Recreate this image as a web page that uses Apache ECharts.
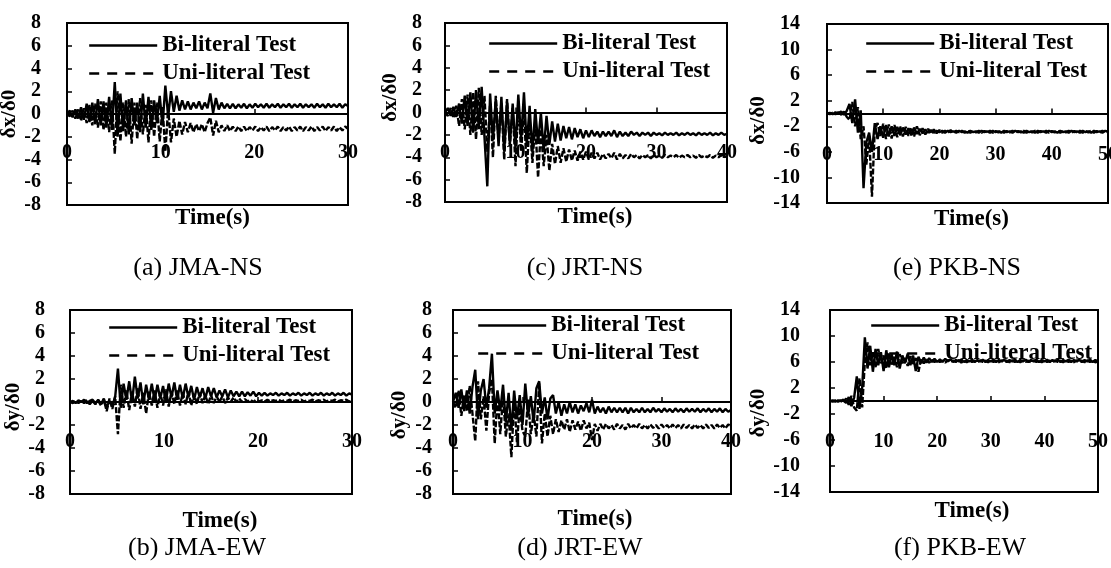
<!DOCTYPE html>
<html><head><meta charset="utf-8">
<script src="https://cdn.jsdelivr.net/npm/echarts@6/dist/echarts.min.js"></script>
<style>html,body{margin:0;padding:0;background:#fff}#c{width:1111px;height:568px}</style>
</head><body><div id="c"></div>
<script>
// ---------- data ----------
const SERIES_NAMES = ['Bi-literal Test', 'Uni-literal Test'];
const X_TICKS_30 = [0, 10, 20, 30];
const X_TICKS_40 = [0, 10, 20, 30, 40];
const X_TICKS_50 = [0, 10, 20, 30, 40, 50];
const Y_TICKS_8 = [-8, -6, -4, -2, 0, 2, 4, 6, 8];
const Y_TICKS_14 = [-14, -10, -6, -2, 2, 6, 10, 14];
const Y_NAME_X = 'δx/δ0';
const Y_NAME_Y = 'δy/δ0';
const X_NAME = 'Time(s)';
const CAPTIONS = ['(a) JMA-NS', '(c) JRT-NS', '(e) PKB-NS', '(b) JMA-EW', '(d) JRT-EW', '(f) PKB-EW'];
// sampling step (s) of each record
const DT_JMA = 0.3, DT_JRT = 0.4, DT_PKB = 0.5;

const jmaNsBi = [
 0.0, 0.3, -0.3, 0.4, -0.4, 0.6, -0.5, 0.9, -0.7, 1.0,
 -0.9, 1.3, -1.0, 1.1, -1.2, 1.5, -1.4, 2.8, -2.0, 1.8,
 -1.5, 1.2, -1.8, 1.4, -1.0, 1.0, -1.6, 1.8, -1.2, 1.5,
 -1.4, 1.2, -0.8, 1.6, -1.0, 2.5, -0.2, 2.0, 0.2, 1.6,
 0.3, 1.2, 0.4, 1.1, 0.4, 1.0, 0.5, 1.1, 0.4, 1.0,
 0.5, 1.8, 0.1, 1.4, 0.4, 1.0, 0.5, 0.9, 0.5, 0.9,
 0.5, 0.85, 0.55, 0.9, 0.5, 0.85, 0.55, 0.9, 0.6, 0.85,
 0.55, 0.9, 0.55, 0.85, 0.6, 0.9, 0.55, 0.85, 0.6, 0.9,
 0.55, 0.85, 0.6, 0.9, 0.55, 0.85, 0.6, 0.85, 0.55, 0.9,
 0.6, 0.85, 0.55, 0.9, 0.6, 0.85, 0.6, 0.9, 0.55, 0.85, 0.7
];
const jmaNsUni = [
 0.0, -0.2, 0.3, -0.4, 0.4, -0.6, 0.5, -0.8, 0.8, -1.0,
 0.9, -1.2, 1.1, -1.4, 1.0, -1.6, 1.2, -3.5, 2.0, -2.4,
 1.0, -2.0, 1.3, -2.6, 1.0, -2.2, 1.4, -1.8, 0.8, -2.5,
 1.2, -2.0, 1.0, -2.4, 0.6, -3.3, 0.5, -2.5, -0.4, -2.0,
 -0.6, -1.8, -0.7, -1.6, -0.8, -1.6, -0.9, -1.5, -0.9, -1.6,
 -0.8, -0.3, -1.9, -0.6, -1.6, -1.0, -1.5, -1.0, -1.5, -1.1,
 -1.5, -1.1, -1.5, -1.1, -1.5, -1.15, -1.45, -1.1, -1.5, -1.15,
 -1.45, -1.1, -1.5, -1.15, -1.45, -1.1, -1.5, -1.15, -1.45, -1.1,
 -1.5, -1.15, -1.45, -1.1, -1.5, -1.15, -1.45, -1.1, -1.5, -1.15,
 -1.45, -1.1, -1.5, -1.15, -1.45, -1.1, -1.5, -1.15, -1.45, -1.1, -1.3
];
const jmaEwBi = [
 0.0, 0.1, -0.1, 0.15, 0.0, 0.2, -0.1, 0.1, 0.2, -0.1,
 0.2, -0.2, 0.3, -0.5, 0.1, -0.3, 0.4, 2.9, -0.5, 1.6,
 0.2, 1.8, 0.0, 2.2, 0.3, 1.7, -0.2, 1.5, 0.2, 1.6,
 0.1, 1.5, 0.3, 1.4, 0.0, 1.6, 0.4, 1.7, 0.2, 1.5,
 0.3, 1.6, 0.4, 1.4, 0.2, 1.3, 0.4, 1.2, 0.3, 1.3,
 0.5, 1.2, 0.4, 1.0, 0.5, 1.1, 0.4, 1.0, 0.5, 0.9,
 0.5, 0.9, 0.5, 0.85, 0.55, 0.9, 0.5, 0.8, 0.55, 0.8,
 0.55, 0.75, 0.6, 0.8, 0.55, 0.75, 0.6, 0.8, 0.55, 0.75,
 0.6, 0.8, 0.55, 0.75, 0.6, 0.8, 0.55, 0.75, 0.6, 0.8,
 0.55, 0.75, 0.6, 0.8, 0.55, 0.75, 0.6, 0.8, 0.55, 0.75, 0.65
];
const jmaEwUni = [
 0.0, -0.1, 0.1, -0.1, 0.1, -0.1, 0.2, -0.2, 0.1, -0.2,
 0.1, -0.3, 0.2, -0.8, 0.3, -0.6, 0.5, -2.8, 1.5, -0.5,
 1.0, -0.7, 0.9, -0.4, 1.2, -0.6, 0.8, -1.0, 0.9, -0.3,
 1.0, -0.5, 0.8, -0.3, 1.1, -0.4, 0.9, -0.2, 1.0, -0.3,
 0.8, -0.2, 0.9, -0.3, 0.7, -0.2, 0.8, -0.1, 0.6, -0.2,
 0.6, -0.1, 0.5, 0.0, 0.5, -0.1, 0.4, 0.0, 0.4, 0.0,
 0.3, 0.0, 0.25, 0.05, 0.2, 0.0, 0.2, 0.05, 0.15, 0.05,
 0.2, 0.05, 0.15, 0.1, 0.2, 0.05, 0.15, 0.1, 0.2, 0.05,
 0.15, 0.1, 0.2, 0.05, 0.15, 0.1, 0.2, 0.05, 0.15, 0.1,
 0.2, 0.05, 0.15, 0.1, 0.2, 0.05, 0.15, 0.1, 0.2, 0.05, 0.1
];
const jrtNsBi = [
 0.0, 0.4, -0.3, 0.5, -0.4, 0.8, -1.0, 1.5, -1.2, 1.8,
 -1.8, 2.0, -1.5, 2.3, -2.2, -6.6, 1.7, -2.5, 1.2, -3.0,
 1.4, -3.5, 1.0, -2.8, 0.8, -3.2, 1.6, -2.4, 1.8, -3.0,
 0.6, -3.6, 0.3, -2.8, 0.0, -3.4, -0.3, -2.9, -0.8, -2.6,
 -1.0, -2.5, -1.2, -2.3, -1.3, -2.4, -1.4, -2.2, -1.5, -2.3,
 -1.6, -2.2, -1.6, -2.1, -1.7, -2.2, -1.7, -2.1, -1.7, -2.1,
 -1.6, -2.2, -1.7, -2.1, -1.8, -2.1, -1.7, -2.0, -1.8, -2.1,
 -1.8, -2.0, -1.8, -2.1, -1.8, -2.0, -1.85, -2.05, -1.8, -2.0,
 -1.85, -2.0, -1.8, -2.05, -1.85, -2.0, -1.8, -2.0, -1.85, -2.05,
 -1.8, -2.0, -1.85, -2.0, -1.8, -2.05, -1.85, -2.0, -1.8, -2.0, -1.9
];
const jrtNsUni = [
 0.0, -0.3, 0.4, -0.5, 0.6, -1.2, 1.2, -1.5, 1.6, -2.0,
 1.8, -2.4, 2.2, -2.0, 1.5, -3.5, 0.8, -4.0, 1.5, -2.5,
 0.9, -4.2, 1.2, -3.0, 0.4, -4.8, 1.0, -3.5, 0.5, -5.4,
 -0.5, -4.5, -1.0, -5.8, -1.5, -4.8, -2.0, -5.2, -2.8, -4.6,
 -3.0, -4.5, -3.2, -4.4, -3.3, -4.3, -3.4, -4.3, -3.5, -4.2,
 -3.5, -4.2, -3.6, -4.1, -3.6, -4.2, -3.7, -4.1, -3.7, -4.1,
 -3.6, -4.2, -3.7, -4.1, -3.8, -4.1, -3.7, -4.0, -3.8, -4.1,
 -3.8, -4.0, -3.8, -4.1, -3.8, -4.0, -3.85, -4.05, -3.8, -4.0,
 -3.85, -4.0, -3.8, -4.05, -3.85, -4.0, -3.8, -4.0, -3.85, -4.05,
 -3.8, -4.0, -3.85, -4.0, -3.8, -4.05, -3.85, -4.0, -3.8, -4.0, -3.9
];
const jrtEwBi = [
 0.0, 0.8, -0.5, 1.1, -0.8, 1.0, -1.0, 1.3, 2.8, -1.5,
 1.0, 2.0, -0.5, 1.2, 4.2, -1.0, 1.0, -0.8, 1.5, -1.8,
 0.8, -2.5, 1.0, -1.5, 0.6, -2.0, 1.6, -1.2, 0.5, -1.8,
 1.2, 1.8, -1.0, 0.4, -1.5, 0.3, 0.6, -1.0, 0.0, -1.2,
 -0.2, -1.0, 0.0, -0.9, -0.2, -1.0, -0.3, -0.8, -0.1, -0.9,
 0.2, -1.0, -0.4, -0.9, -0.5, -1.0, -0.4, -0.9, -0.5, -0.9,
 -0.5, -0.9, -0.5, -1.0, -0.5, -0.9, -0.6, -0.9, -0.5, -0.9,
 -0.6, -0.9, -0.5, -0.85, -0.6, -0.9, -0.55, -0.85, -0.6, -0.9,
 -0.55, -0.85, -0.6, -0.9, -0.55, -0.85, -0.6, -0.85, -0.55, -0.9,
 -0.6, -0.85, -0.55, -0.9, -0.6, -0.85, -0.55, -0.9, -0.6, -0.85, -0.7
];
const jrtEwUni = [
 0.0, -0.5, 1.0, -1.2, 0.6, -0.8, 1.4, -1.0, -3.4, 1.8,
 -1.5, 0.5, -2.5, 0.8, 2.0, -3.6, 0.5, -2.8, 0.6, -3.0,
 -1.0, -4.8, 0.2, -3.5, -0.5, -2.5, -3.0, 0.2, -2.8, -1.0,
 -3.0, 1.6, -3.6, -1.0, -3.0, -1.2, -2.8, -1.5, -2.6, -1.6,
 -2.4, -1.5, -2.6, -1.6, -2.4, -1.7, -2.5, -1.6, -2.3, -1.8,
 -3.3, -1.9, -2.5, -1.9, -2.4, -1.9, -2.3, -2.0, -2.4, -1.9,
 -2.3, -2.0, -2.4, -1.9, -2.3, -2.0, -2.3, -1.9, -2.3, -2.0,
 -2.3, -1.95, -2.25, -2.0, -2.3, -1.95, -2.25, -2.0, -2.3, -1.95,
 -2.25, -2.0, -2.3, -1.95, -2.25, -2.0, -2.3, -1.95, -2.25, -2.0,
 -2.3, -1.95, -2.25, -2.0, -2.3, -1.95, -2.25, -2.0, -2.3, -1.95, -2.1
];
const pkbNsBi = [
 0.0, 0.1, -0.1, 0.2, 0.0, 0.3, -0.2, 0.4, 1.5, -1.5,
 2.2, -3.0, 0.5, -11.7, -4.5, -3.0, -6.0, -1.5, -4.0, -2.0,
 -3.8, -1.8, -3.6, -2.0, -3.5, -2.1, -3.4, -2.2, -3.3, -2.3,
 -3.4, -2.2, -3.2, -2.4, -3.1, -2.5, -3.0, -2.6, -3.0, -2.7,
 -2.9, -2.7, -3.0, -2.7, -2.9, -2.8, -3.0, -2.7, -2.9, -2.8,
 -3.0, -2.7, -2.9, -2.8, -3.0, -2.7, -2.9, -2.8, -3.0, -2.7,
 -2.9, -2.8, -3.0, -2.7, -2.9, -2.8, -3.0, -2.7, -2.9, -2.8,
 -3.0, -2.7, -2.9, -2.8, -3.0, -2.7, -2.9, -2.8, -3.0, -2.7,
 -2.9, -2.8, -3.0, -2.7, -2.9, -2.8, -3.0, -2.7, -2.9, -2.8,
 -3.0, -2.7, -2.9, -2.8, -3.0, -2.7, -2.9, -2.8, -3.0, -2.7, -2.85
];
const pkbNsUni = [
 0.0, -0.1, 0.1, -0.1, 0.2, -0.2, 0.3, -0.5, -1.0, 1.8,
 -2.0, 1.0, -4.0, -2.0, -8.0, -3.5, -13.0, -2.5, -1.5, -3.5,
 -1.6, -4.0, -1.7, -3.9, -1.8, -3.7, -2.0, -3.6, -2.1, -3.5,
 -2.2, -3.6, -2.0, -3.4, -2.3, -3.3, -2.4, -3.2, -2.5, -3.1,
 -2.6, -3.0, -2.7, -3.0, -2.6, -3.0, -2.7, -2.9, -2.7, -3.0,
 -2.7, -3.0, -2.75, -2.95, -2.7, -3.0, -2.75, -2.95, -2.7, -3.0,
 -2.75, -2.95, -2.7, -3.0, -2.75, -2.95, -2.7, -3.0, -2.75, -2.95,
 -2.7, -3.0, -2.75, -2.95, -2.7, -3.0, -2.75, -2.95, -2.7, -3.0,
 -2.75, -2.95, -2.7, -3.0, -2.75, -2.95, -2.7, -3.0, -2.75, -2.95,
 -2.7, -3.0, -2.75, -2.95, -2.7, -3.0, -2.75, -2.95, -2.7, -3.0, -2.85
];
const pkbEwBi = [
 0.0, 0.1, -0.1, 0.1, 0.0, 0.2, -0.3, 0.6, -0.8, 0.5,
 3.8, -1.2, 2.0, 9.8, 5.0, 8.5, 4.5, 8.0, 5.5, 7.5,
 4.6, 7.8, 5.2, 7.2, 5.5, 7.6, 5.0, 7.0, 5.8, 7.3,
 5.5, 7.0, 4.6, 6.8, 5.8, 6.7, 5.9, 6.6, 6.0, 6.5,
 6.0, 6.4, 6.0, 6.5, 6.1, 6.4, 6.0, 6.3, 6.1, 6.4,
 6.0, 6.3, 6.1, 6.35, 6.0, 6.3, 6.1, 6.35, 6.0, 6.3,
 6.1, 6.35, 6.0, 6.3, 6.1, 6.35, 6.0, 6.3, 6.1, 6.35,
 6.0, 6.3, 6.1, 6.35, 6.0, 6.3, 6.1, 6.35, 6.0, 6.3,
 6.1, 6.35, 6.0, 6.3, 6.1, 6.35, 6.0, 6.3, 6.1, 6.35,
 6.0, 6.3, 6.1, 6.35, 6.0, 6.3, 6.1, 6.35, 6.0, 6.3, 6.15
];
const pkbEwUni = [
 0.0, -0.1, 0.1, -0.1, 0.1, -0.3, 0.4, -0.6, 0.8, -1.0,
 -1.5, 3.5, -1.0, 6.0, 9.0, 5.5, 7.5, 5.2, 8.0, 5.8,
 7.0, 5.0, 7.4, 5.6, 6.8, 5.2, 7.2, 5.8, 6.6, 5.4,
 6.9, 5.7, 6.6, 4.5, 6.5, 5.8, 6.4, 5.9, 6.3, 6.0,
 6.3, 6.0, 6.2, 5.9, 6.3, 6.0, 6.2, 6.0, 6.3, 5.9,
 6.2, 5.95, 6.25, 6.0, 6.2, 5.95, 6.25, 6.0, 6.2, 5.95,
 6.25, 6.0, 6.2, 5.95, 6.25, 6.0, 6.2, 5.95, 6.25, 6.0,
 6.2, 5.95, 6.25, 6.0, 6.2, 5.95, 6.25, 6.0, 6.2, 5.95,
 6.25, 6.0, 6.2, 5.95, 6.25, 6.0, 6.2, 5.95, 6.25, 6.0,
 6.2, 5.95, 6.25, 6.0, 6.2, 5.95, 6.25, 6.0, 6.2, 5.95, 6.1
];

// ---------- panel description ----------
const panels = [
  { bi: jmaNsBi, uni: jmaNsUni, dt: DT_JMA, xTicks: X_TICKS_30, yTicks: Y_TICKS_8, yName: Y_NAME_X },
  { bi: jrtNsBi, uni: jrtNsUni, dt: DT_JRT, xTicks: X_TICKS_40, yTicks: Y_TICKS_8, yName: Y_NAME_X },
  { bi: pkbNsBi, uni: pkbNsUni, dt: DT_PKB, xTicks: X_TICKS_50, yTicks: Y_TICKS_14, yName: Y_NAME_X },
  { bi: jmaEwBi, uni: jmaEwUni, dt: DT_JMA, xTicks: X_TICKS_30, yTicks: Y_TICKS_8, yName: Y_NAME_Y },
  { bi: jrtEwBi, uni: jrtEwUni, dt: DT_JRT, xTicks: X_TICKS_40, yTicks: Y_TICKS_8, yName: Y_NAME_Y },
  { bi: pkbEwBi, uni: pkbEwUni, dt: DT_PKB, xTicks: X_TICKS_50, yTicks: Y_TICKS_14, yName: Y_NAME_Y }
];

// ---------- layout (pixels) ----------
// xLM: distance from the plot bottom up to the bottom of the (inside) time labels
// xNG: gap below plot bottom to the "Time(s)" name
const layout = [
  { grid: {left: 67, top: 23, width: 281, height: 182}, lg: [88, 34], cap: [198, 268], yLM: 26, xLM: 42, yNG: 42, yNS: 0, xNG: 2, xNS: 5 },
  { grid: {left: 445, top: 23, width: 282, height: 179}, lg: [488, 32], cap: [585, 268], yLM: 23, xLM: 39, yNG: 41, yNS: 15, xNG: 4, xNS: 9 },
  { grid: {left: 827, top: 24, width: 281, height: 179}, lg: [865, 32], cap: [957, 268], yLM: 27, xLM: 38, yNG: 42, yNS: -7, xNG: 5, xNS: 4 },
  { grid: {left: 70, top: 310, width: 282, height: 184}, lg: [108, 316], cap: [197, 548], yLM: 25, xLM: 42, yNG: 40, yNS: -5, xNG: 16, xNS: 9 },
  { grid: {left: 453, top: 310, width: 278, height: 184}, lg: [477, 314], cap: [580, 548], yLM: 21, xLM: 42, yNG: 43, yNS: -13, xNG: 14, xNS: 3 },
  { grid: {left: 830, top: 310, width: 268, height: 182}, lg: [870, 314], cap: [960, 548], yLM: 30, xLM: 40, yNG: 45, yNS: -12, xNG: 8, xNS: 8 }
];

const FONT = "'Liberation Serif','Times New Roman',serif";
const BLACK = '#000';
const LINE_W = 2.4;
const txt = (size, bold) => ({ fontFamily: FONT, fontSize: size, fontWeight: bold ? 'bold' : 'normal', color: BLACK });
// padding that moves a centred name by d pixels along its own text direction
const shiftPad = (d) => d >= 0 ? [0, 0, 0, 2 * d] : [0, -2 * d, 0, 0];

const option = {
  animation: false,
  backgroundColor: '#fff',
  grid: layout.map(l => Object.assign({ show: true, borderColor: BLACK, borderWidth: 2, containLabel: false, outerBoundsMode: 'none' }, l.grid)),
  xAxis: panels.map((p, i) => ({
    type: 'value', gridIndex: i,
    min: p.xTicks[0], max: p.xTicks[p.xTicks.length - 1],
    name: X_NAME, nameLocation: 'middle', nameGap: layout[i].xNG,
    nameTextStyle: Object.assign(txt(23, true), { padding: shiftPad(layout[i].xNS) }),
    axisLine: { show: true, onZero: true, lineStyle: { color: BLACK, width: 2 } },
    axisTick: { show: true, inside: true, length: 5, customValues: p.xTicks, lineStyle: { color: BLACK, width: 1.5 } },
    axisLabel: Object.assign(txt(20, true), { inside: true, margin: layout[i].xLM, customValues: p.xTicks, showMinLabel: true, showMaxLabel: true }),
    splitLine: { show: false }
  })),
  yAxis: panels.map((p, i) => ({
    type: 'value', gridIndex: i,
    min: p.yTicks[0], max: p.yTicks[p.yTicks.length - 1],
    name: p.yName, nameLocation: 'middle', nameRotate: 90, nameGap: layout[i].yNG,
    nameTextStyle: Object.assign(txt(21, true), { padding: shiftPad(layout[i].yNS) }),
    axisLine: { show: true, onZero: false, lineStyle: { color: BLACK, width: 2 } },
    axisTick: { show: true, inside: true, length: 5, customValues: p.yTicks, lineStyle: { color: BLACK, width: 1.5 } },
    axisLabel: Object.assign(txt(20, true), { margin: layout[i].yLM, customValues: p.yTicks }),
    splitLine: { show: false }
  })),
  legend: layout.map(l => ({
    orient: 'vertical', left: l.lg[0], top: l.lg[1], padding: 0,
    itemWidth: 68, itemHeight: 14, itemGap: 5, selectedMode: false,
    textStyle: txt(23, true),
    data: [
      { name: SERIES_NAMES[0], itemStyle: { opacity: 0 }, lineStyle: { width: LINE_W } },
      { name: SERIES_NAMES[1], itemStyle: { opacity: 0 }, lineStyle: { width: LINE_W, type: [10, 8] } }
    ]
  })),
  series: panels.flatMap((p, i) => [
    { type: 'line', name: SERIES_NAMES[0], xAxisIndex: i, yAxisIndex: i, symbol: 'none',
      data: p.bi.map((v, k) => [k * p.dt, v]),
      lineStyle: { color: BLACK, width: LINE_W }, itemStyle: { color: BLACK } },
    { type: 'line', name: SERIES_NAMES[1], xAxisIndex: i, yAxisIndex: i, symbol: 'none',
      data: p.uni.map((v, k) => [k * p.dt, v]),
      lineStyle: { color: BLACK, width: LINE_W, type: [6, 2] }, itemStyle: { color: BLACK } }
  ]),
  graphic: layout.map((l, i) => ({
    type: 'text', x: l.cap[0], y: l.cap[1],
    style: { text: CAPTIONS[i], font: "26px 'Liberation Serif','Times New Roman',serif", fill: BLACK, align: 'center', verticalAlign: 'middle' }
  }))
};

const chart = echarts.init(document.getElementById('c'), null, { renderer: 'canvas' });
chart.setOption(option);
</script>
</body></html>
